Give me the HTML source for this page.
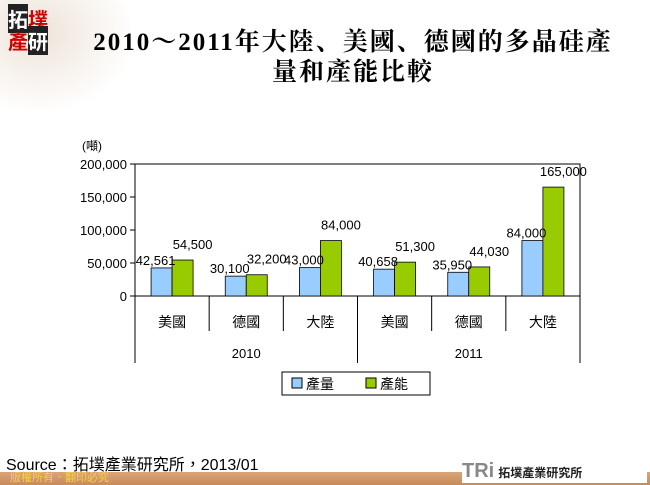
<!DOCTYPE html>
<html><head><meta charset="utf-8"><style>
body{margin:0;width:650px;height:485px;position:relative;background:#fff;overflow:hidden;font-family:"Liberation Sans","Noto Sans CJK TC",sans-serif}
.title{position:absolute;left:62px;top:28px;width:582px;text-align:center;font-family:"Liberation Serif","Noto Serif CJK SC",serif;font-weight:bold;font-size:25px;letter-spacing:2px;line-height:30px;color:#000}
</style></head><body>
<div style="position:absolute;left:0;top:0;width:130px;height:110px;background:radial-gradient(ellipse at 30% 30%,#eee3d8,#fff 75%)"></div>
<div style="position:absolute;left:8px;top:8px;width:52px;height:46px;font-family:'Noto Sans CJK TC',sans-serif;font-size:20px;line-height:22px;font-weight:bold"><span style="background:#222;color:#fff">拓</span><span style="color:#c00">墣</span><br><span style="color:#c00">產</span><span style="background:#222;color:#fff">研</span></div>
<div class="title">2010～2011年大陸、美國、德國的多晶硅產<br>量和產能比較</div>
<svg id="c" width="650" height="485" style="position:absolute;left:0;top:0"></svg>
<div style="position:absolute;left:6px;top:451px;font-size:16px;color:#000">Source：拓墣產業研究所，2013/01</div>
<div style="position:absolute;left:0;top:472px;width:650px;height:13px;background:linear-gradient(#d9a577,#c88a5a)"></div>
<div style="position:absolute;left:10px;top:472px;font-size:11px;line-height:13px;color:#f5d040">版權所有．翻印必究</div>
<div style="position:absolute;left:462px;top:459px;width:185px;height:24px;background:#fff;font-size:20px;font-weight:bold;color:#888;line-height:24px">TRi<span style="font-size:12px;color:#222;margin-left:4px">拓墣產業研究所</span></div>
<script>
const categories=["美國","德國","大陸","美國","德國","大陸"];
const years=["2010","2011"];
const output=[42561,30100,43000,40658,35950,84000];
const capacity=[54500,32200,84000,51300,44030,165000];
const yTicks=[0,50000,100000,150000,200000];
const labelsOut=["42,561","30,100","43,000","40,658","35,950","84,000"];
const labelsCap=["54,500","32,200","84,000","51,300","44,030","165,000"];
const svg=document.getElementById('c');const NS='http://www.w3.org/2000/svg';
function el(t,a,p){const e=document.createElementNS(NS,t);for(const k in a)e.setAttribute(k,a[k]);(p||svg).appendChild(e);return e;}
const x0=135,x1=580,y0=296,y1=164;
const gw=(x1-x0)/categories.length;
const yS=v=>y0-(v/200000)*(y0-y1);
const F='"Liberation Sans","Noto Sans CJK TC",sans-serif';
let t=el('text',{x:82,y:150,'font-size':12,'font-family':F});t.textContent='(噸)';

yTicks.forEach(v=>{const y=yS(v);el('line',{x1:x0-5,x2:x0,y1:y,y2:y,stroke:'#000'});
const tx=el('text',{x:x0-8,y:y+5,'text-anchor':'end','font-size':13,'font-family':F});tx.textContent=v.toLocaleString('en-US');
});
el('rect',{x:x0,y:y1,width:x1-x0,height:y0-y1,fill:'none',stroke:'#000'});
categories.forEach((c,i)=>{const gx=x0+gw*i,bw=21,bx=gx+gw/2-bw;
const b1=el('rect',{x:bx,y:yS(output[i]),width:bw,height:y0-yS(output[i]),fill:'#99ccff',stroke:'#000','stroke-width':0.8});

const b2=el('rect',{x:bx+bw,y:yS(capacity[i]),width:bw,height:y0-yS(capacity[i]),fill:'#99cc00',stroke:'#000','stroke-width':0.8});

const l1=el('text',{x:bx+bw/2-6,y:yS(output[i])-3,'text-anchor':'middle','font-size':13,'font-family':F});l1.textContent=labelsOut[i];

const l2=el('text',{x:bx+bw*1.5+10,y:yS(capacity[i])-11,'text-anchor':'middle','font-size':13,'font-family':F});l2.textContent=labelsCap[i];

const ct=el('text',{x:gx+gw/2,y:327,'text-anchor':'middle','font-size':14,'font-family':'"Noto Sans CJK TC",sans-serif'});ct.textContent=c;

el('line',{x1:gx,x2:gx,y1:y0,y2:i%3==0?363:331,stroke:'#000'});});
el('line',{x1:x1,x2:x1,y1:y0,y2:363,stroke:'#000'});
years.forEach((yv,j)=>{const yt=el('text',{x:x0+gw*(3*j+1.5),y:358,'text-anchor':'middle','font-size':13,'font-family':F});yt.textContent=yv;
});
const lg=el('rect',{x:282,y:372,width:148,height:23,fill:'#fff',stroke:'#000'});

[['#99ccff','產量',292],['#99cc00','產能',366]].forEach(([c,n,x])=>{el('rect',{x:x,y:378,width:10,height:10,fill:c,stroke:'#000'});
const lt=el('text',{x:x+14,y:389,'font-size':14,'font-family':'"Noto Sans CJK TC",sans-serif'});lt.textContent=n;
});
</script>
</body></html>
